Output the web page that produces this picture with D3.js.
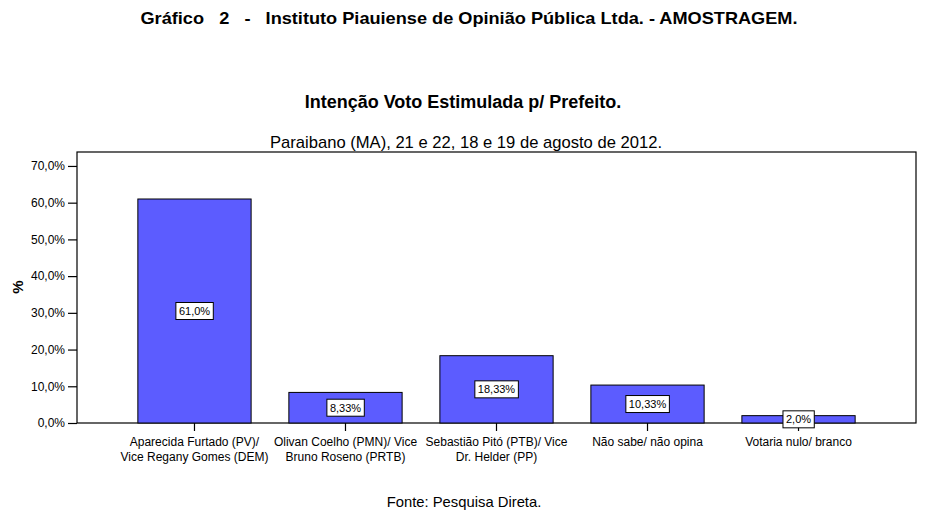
<!DOCTYPE html>
<html>
<head>
<meta charset="utf-8">
<script src="https://cdn.jsdelivr.net/npm/d3@7"></script>
<style>
  body { margin: 0; background: #fff; }
  text { font-family: Arial, "Liberation Sans", sans-serif; }
</style>
</head>
<body>
<script>
// data
var categories = [
	["Aparecida Furtado (PV)/", "Vice Regany Gomes (DEM)"],
	["Olivan Coelho (PMN)/ Vice", "Bruno Roseno (PRTB)"],
	["Sebastião Pitó (PTB)/ Vice", "Dr. Helder (PP)"],
	["Não sabe/ não opina"],
	["Votaria nulo/ branco"]
];
var values = [61.0, 8.33, 18.33, 10.33, 2.0];
var valueLabels = ["61,0%", "8,33%", "18,33%", "10,33%", "2,0%"];
var yTicks = [0, 10, 20, 30, 40, 50, 60, 70];

var svg_width = 929, svg_height = 520;
var svg = d3.select("body")
	.append("svg")
	.attr("width", svg_width)
	.attr("height", svg_height);

var frame = {left: 77, right: 916, top: 152, bottom: 423};

var xScale = d3.scaleBand()
	.domain(d3.range(values.length))
	.range([frame.left, frame.right])
	.paddingInner(0.25)
	.paddingOuter(0.403);

var yScale = d3.scaleLinear()
	.domain([0, 73.8])
	.range([frame.bottom, frame.top]);

// titles
svg.append("text")
	.attr("x", 469).attr("y", 24)
	.attr("text-anchor", "middle")
	.attr("font-size", 17).attr("font-weight", "bold")
	.style("white-space", "pre")
	.attr("textLength", 657).attr("lengthAdjust", "spacingAndGlyphs")
	.text("Gráfico   2   -   Instituto Piauiense de Opinião Pública Ltda. - AMOSTRAGEM.");

svg.append("text")
	.attr("x", 463).attr("y", 108)
	.attr("text-anchor", "middle")
	.attr("font-size", 18).attr("font-weight", "bold")
	.text("Intenção Voto Estimulada p/ Prefeito.");

svg.append("text")
	.attr("x", 466).attr("y", 148)
	.attr("text-anchor", "middle")
	.attr("font-size", 16.6)
	.text("Paraibano (MA), 21 e 22, 18 e 19 de agosto de 2012.");

svg.append("text")
	.attr("x", 464).attr("y", 507)
	.attr("text-anchor", "middle")
	.attr("font-size", 14.8)
	.text("Fonte: Pesquisa Direta.");

// frame
svg.append("rect")
	.attr("x", frame.left).attr("y", frame.top)
	.attr("width", frame.right - frame.left)
	.attr("height", frame.bottom - frame.top)
	.attr("fill", "none")
	.attr("stroke", "#000")
	.attr("stroke-width", 1.2);

// bars
svg.selectAll("rect.bar")
	.data(values)
	.enter().append("rect")
	.attr("class", "bar")
	.attr("x", function(d, i) { return xScale(i); })
	.attr("y", function(d) { return yScale(d); })
	.attr("width", xScale.bandwidth())
	.attr("height", function(d) { return yScale(0) - yScale(d); })
	.attr("fill", "#5c5cff")
	.attr("stroke", "#000")
	.attr("stroke-width", 1);

// y axis
var yAxis = svg.append("g")
	.attr("transform", "translate(" + frame.left + ",0)")
	.call(d3.axisLeft(yScale).tickValues(yTicks).tickSize(9).tickPadding(3)
		.tickFormat(function(d) { return d.toFixed(1).replace(".", ",") + "%"; }));
yAxis.select(".domain").remove();
yAxis.selectAll("text").attr("font-size", 12).attr("fill", "#000")
	.style("font-family", "Arial, 'Liberation Sans', sans-serif");
yAxis.selectAll("line").attr("stroke", "#000").attr("stroke-width", 1.2);

svg.append("text")
	.attr("transform", "translate(23,287) rotate(-90)")
	.attr("text-anchor", "middle")
	.attr("font-size", 15).attr("font-weight", "bold")
	.text("%");

// x axis
var xAxis = svg.append("g")
	.attr("transform", "translate(0," + frame.bottom + ")")
	.call(d3.axisBottom(xScale).tickSize(8).tickFormat(""));
xAxis.select(".domain").remove();
xAxis.selectAll("line").attr("stroke", "#000").attr("stroke-width", 1.2);

var catText = svg.selectAll("text.cat")
	.data(categories)
	.enter().append("text")
	.attr("class", "cat")
	.attr("x", function(d, i) { return xScale(i) + xScale.bandwidth() / 2; })
	.attr("y", 446)
	.attr("text-anchor", "middle")
	.attr("font-size", 12);
catText.selectAll("tspan")
	.data(function(d) { return d; })
	.enter().append("tspan")
	.attr("x", function() { return d3.select(this.parentNode).attr("x"); })
	.attr("dy", function(d, j) { return j === 0 ? 0 : 15; })
	.text(function(d) { return d; });

// value labels
var labels = svg.selectAll("g.vlabel")
	.data(values)
	.enter().append("g")
	.attr("class", "vlabel")
	.attr("transform", function(d, i) {
		return "translate(" + (xScale(i) + xScale.bandwidth() / 2) + "," + ((yScale(d) + yScale(0)) / 2) + ")";
	});
labels.append("text")
	.attr("text-anchor", "middle")
	.attr("dy", "0.35em")
	.attr("font-size", 11)
	.text(function(d, i) { return valueLabels[i]; });
labels.each(function() {
	var g = d3.select(this);
	var bb = g.select("text").node().getBBox();
	g.insert("rect", "text")
		.attr("x", bb.x - 3).attr("y", -8.5)
		.attr("width", bb.width + 6).attr("height", 17)
		.attr("fill", "#fff")
		.attr("stroke", "#000")
		.attr("stroke-width", 1);
});
</script>
</body>
</html>
